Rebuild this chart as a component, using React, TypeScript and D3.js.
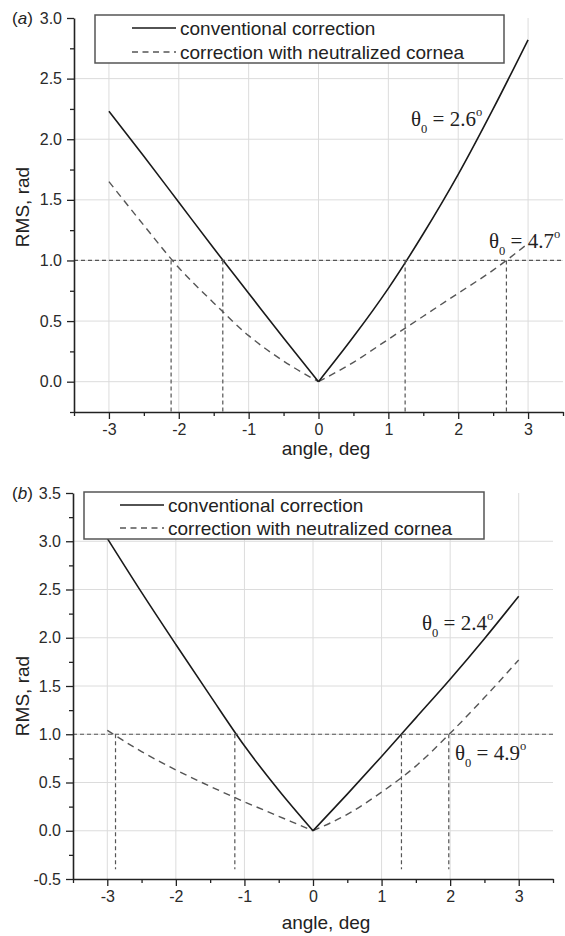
import React, { useEffect, useRef } from 'react'
import * as d3 from 'd3'

// angle, deg
const angles = [-3, -2.5, -2, -1.5, -1, -0.5, 0, 0.5, 1, 1.5, 2, 2.5, 3]

// panel (a) RMS, rad
const conventionalA = [2.23, 1.86, 1.48, 1.10, 0.73, 0.36, 0, 0.37, 0.77, 1.22, 1.71, 2.25, 2.82]
const neutralizedA = [1.65, 1.29, 0.94, 0.65, 0.38, 0.17, 0, 0.16, 0.35, 0.54, 0.73, 0.92, 1.14]
const crossingsA = [-2.11, -1.37, 1.24, 2.69]
const thetaA = ['2.6', '4.7']

// panel (b) RMS, rad
const conventionalB = [3.03, 2.47, 1.93, 1.40, 0.88, 0.42, 0, 0.38, 0.77, 1.17, 1.57, 1.99, 2.43]
const neutralizedB = [1.04, 0.82, 0.63, 0.46, 0.30, 0.15, 0, 0.17, 0.40, 0.67, 1.01, 1.38, 1.77]
const crossingsB = [-2.88, -1.14, 1.29, 1.98]
const thetaB = ['2.4', '4.9']

const xTicks = [-3, -2, -1, 0, 1, 2, 3]
const xMinor = [-3.5, -2.5, -1.5, -0.5, 0.5, 1.5, 2.5, 3.5]
const yTicksA = [0, 0.5, 1, 1.5, 2, 2.5, 3]
const yTicksB = [-0.5, 0, 0.5, 1, 1.5, 2, 2.5, 3, 3.5]
const threshold = 1.0
const legendLabels = ['conventional correction', 'correction with neutralized cornea']

const sans = '"Liberation Sans", Arial, sans-serif'
const serif = '"Liberation Serif", "Times New Roman", serif'

function drawPanel(svg: any, cfg: any) {
  const x = d3.scaleLinear().domain([-3.5, 3.5]).range([cfg.x0, cfg.x1])
  const y = d3.scaleLinear().domain(cfg.yDomain).range([cfg.yBot, cfg.yTop])
  const g = svg.append('g')

  // grid
  g.selectAll('.vg').data(xTicks).enter().append('line')
    .attr('x1', (d: number) => x(d)).attr('x2', (d: number) => x(d))
    .attr('y1', cfg.yBot).attr('y2', cfg.yTop)
    .attr('stroke', '#dcdcdc').attr('stroke-width', 1)
  g.selectAll('.hg').data(cfg.grid).enter().append('line')
    .attr('x1', cfg.x0).attr('x2', cfg.x1)
    .attr('y1', (d: number) => y(d)).attr('y2', (d: number) => y(d))
    .attr('stroke', '#dcdcdc').attr('stroke-width', 1)

  // curves, each branch separately so the kink at 0 stays sharp
  const line = d3.line<[number, number]>().x(d => x(d[0])).y(d => y(d[1])).curve(d3.curveMonotoneX)
  const branches = (vals: number[]) => {
    const pts: [number, number][] = angles.map((a, i) => [a, vals[i]])
    return [pts.filter(p => p[0] <= 0), pts.filter(p => p[0] >= 0)]
  }
  branches(cfg.neutral).forEach(b => {
    g.append('path').attr('d', line(b)).attr('fill', 'none')
      .attr('stroke', '#555').attr('stroke-width', 1.4).attr('stroke-dasharray', '7,5')
  })
  branches(cfg.conventional).forEach(b => {
    g.append('path').attr('d', line(b)).attr('fill', 'none')
      .attr('stroke', '#1a1a1a').attr('stroke-width', 1.6)
  })

  // threshold lines
  g.append('line').attr('x1', cfg.x0).attr('x2', cfg.x1)
    .attr('y1', y(threshold)).attr('y2', y(threshold))
    .attr('stroke', '#555').attr('stroke-width', 1.2).attr('stroke-dasharray', '4,3')
  g.selectAll('.vc').data(cfg.crossings).enter().append('line')
    .attr('x1', (d: number) => x(d)).attr('x2', (d: number) => x(d))
    .attr('y1', y(threshold)).attr('y2', y(cfg.vEnd))
    .attr('stroke', '#555').attr('stroke-width', 1.2).attr('stroke-dasharray', '4,3')

  // axes
  const fmt = (d: any) => String(d).replace('−', '-')
  const xAxis = g.append('g').attr('transform', `translate(0,${cfg.yBot})`)
    .call(d3.axisBottom(x).tickValues(xTicks).tickSize(7).tickSizeOuter(0).tickPadding(5).tickFormat((d: any) => fmt(d)))
  g.append('g').attr('transform', `translate(0,${cfg.yBot})`)
    .call(d3.axisBottom(x).tickValues(xMinor).tickSize(4).tickFormat(() => ''))
    .call((s: any) => s.select('.domain').remove())
  const yAxis = g.append('g').attr('transform', `translate(${cfg.x0},0)`)
    .call(d3.axisLeft(y).tickValues(cfg.yTicks).tickSize(7).tickSizeOuter(0).tickPadding(5).tickFormat((d: any) => fmt(d3.format('.1f')(d))))
  g.append('g').attr('transform', `translate(${cfg.x0},0)`)
    .call(d3.axisLeft(y).tickValues(cfg.yMinor).tickSize(4).tickFormat(() => ''))
    .call((s: any) => s.select('.domain').remove())
  ;[xAxis, yAxis].forEach(a => {
    a.select('.domain').attr('stroke', '#222').attr('stroke-width', 1.6)
    a.selectAll('text').attr('font-family', sans).attr('font-size', 16).attr('fill', '#2a2a2a')
  })
  g.selectAll('.tick line').attr('stroke', '#222').attr('stroke-width', 1.3)

  // legend
  const L = cfg.legend
  g.append('rect').attr('x', L.x).attr('y', L.y).attr('width', L.w).attr('height', L.h)
    .attr('fill', '#fff').attr('stroke', '#555').attr('stroke-width', 1.5)
  legendLabels.forEach((t, i) => {
    const ly = L.rows[i]
    g.append('line').attr('x1', L.lx1).attr('x2', L.lx2).attr('y1', ly).attr('y2', ly)
      .attr('stroke', i === 0 ? '#1a1a1a' : '#555').attr('stroke-width', 1.5)
      .attr('stroke-dasharray', i === 0 ? null : '6,4.5')
    g.append('text').attr('x', L.tx).attr('y', ly + 6.5).text(t)
      .attr('font-family', sans).attr('font-size', 19).attr('fill', '#222')
  })

  // theta annotations
  cfg.thetas.forEach((p: any, i: number) => {
    const t = g.append('text').attr('x', p.x).attr('y', p.y)
      .attr('font-family', serif).attr('font-size', 21).attr('fill', '#222')
    t.append('tspan').text('θ')
    t.append('tspan').attr('dy', 7).attr('font-size', 12.5).text('0')
    t.append('tspan').attr('dy', -7).text(` = ${cfg.thetaText[i]}`)
    t.append('tspan').attr('dy', -10).attr('font-size', 12.5).text('o')
  })

  // titles
  g.append('text').attr('x', 12).attr('y', cfg.tagY)
    .attr('font-family', sans).attr('font-size', 17).attr('fill', '#222')
    .call((s: any) => {
      s.append('tspan').text('(')
      s.append('tspan').attr('font-style', 'italic').text(cfg.tag)
      s.append('tspan').text(')')
    })
  g.append('text').attr('x', 326).attr('y', cfg.xTitleY).attr('text-anchor', 'middle')
    .attr('font-family', sans).attr('font-size', 19).attr('fill', '#222').text('angle, deg')
  g.append('text').attr('transform', `translate(29,${cfg.yTitleY}) rotate(-90)`).attr('text-anchor', 'middle')
    .attr('font-family', sans).attr('font-size', 19).attr('fill', '#222').text('RMS, rad')
}

export default function App() {
  const ref = useRef<SVGSVGElement>(null)

  useEffect(() => {
    const svg = d3.select(ref.current)
    svg.selectAll('*').remove()
    drawPanel(svg, {
      x0: 74, x1: 563, yTop: 18, yBot: 412, yDomain: [-0.25, 3],
      yTicks: yTicksA, yMinor: d3.range(-0.25, 3, 0.5), grid: [0, 0.5, 1, 1.5, 2, 2.5],
      conventional: conventionalA, neutral: neutralizedA, crossings: crossingsA, vEnd: -0.25,
      legend: { x: 95, y: 15, w: 409, h: 48, lx1: 132, lx2: 176, tx: 180, rows: [28, 52] },
      thetas: [{ x: 411, y: 126 }, { x: 489, y: 248 }], thetaText: thetaA,
      tag: 'a', tagY: 24, xTitleY: 455, yTitleY: 207,
    })
    drawPanel(svg, {
      x0: 73, x1: 553, yTop: 493, yBot: 879, yDomain: [-0.5, 3.5],
      yTicks: yTicksB, yMinor: d3.range(-0.25, 3.5, 0.5), grid: [0, 0.5, 1, 1.5, 2, 2.5, 3],
      conventional: conventionalB, neutral: neutralizedB, crossings: crossingsB, vEnd: -0.4,
      legend: { x: 84, y: 492, w: 400, h: 47, lx1: 120, lx2: 164, tx: 168, rows: [505, 528] },
      thetas: [{ x: 422, y: 630 }, { x: 455, y: 760 }], thetaText: thetaB,
      tag: 'b', tagY: 499, xTitleY: 929, yTitleY: 696,
    })
  }, [])

  return (
    <svg ref={ref} width={565} height={936}
      style={{ position: 'absolute', left: 0, top: 0, background: '#fff' }} />
  )
}
